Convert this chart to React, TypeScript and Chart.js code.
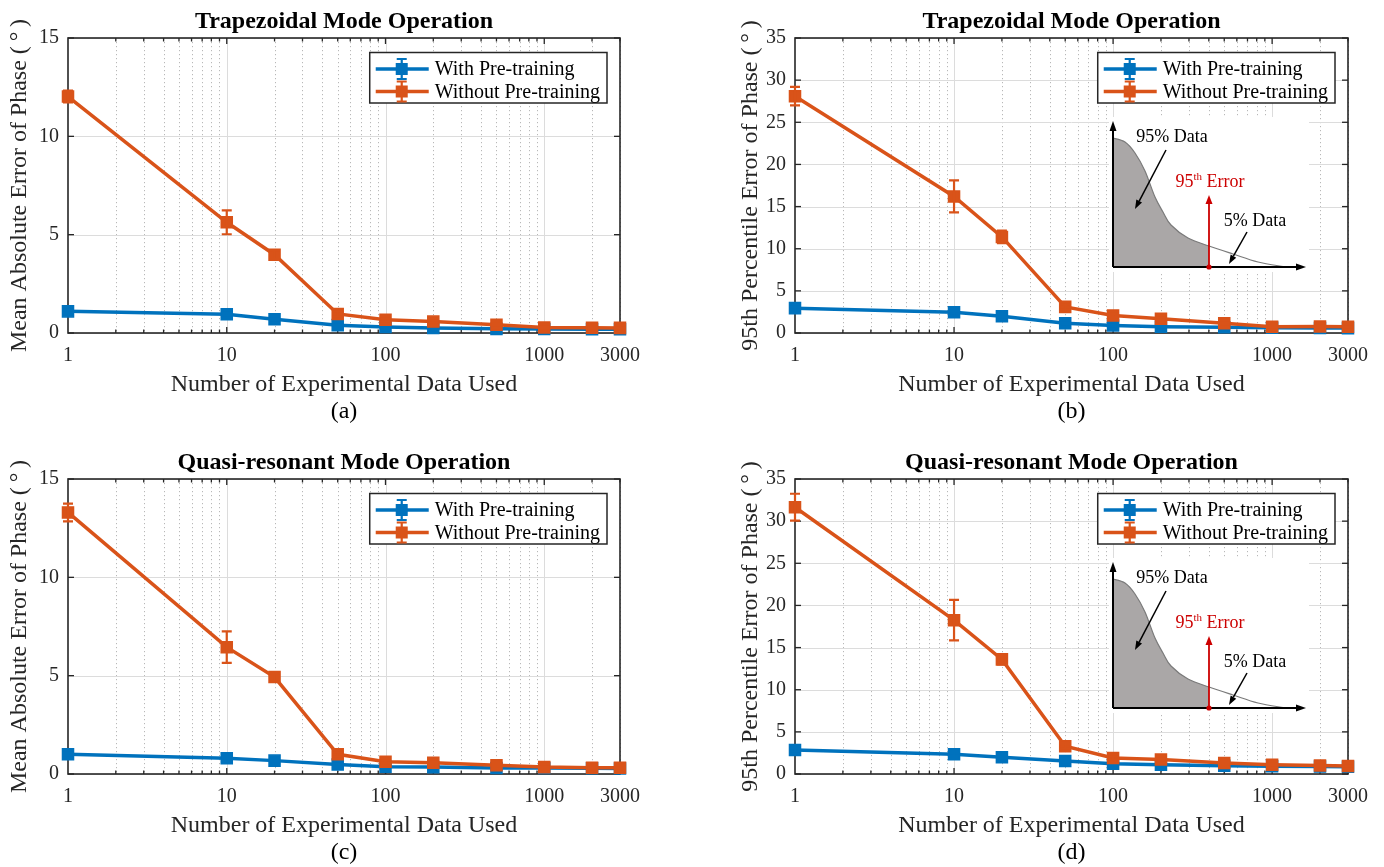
import React, { useEffect, useRef } from 'react';
import { Chart, registerables } from 'chart.js';

Chart.register(...registerables);

const FAMILY = "'Liberation Serif', 'Times New Roman', Times, serif";
const BLUE = '#0072BD';
const ORANGE = '#D95319';
const AXIS_COLOR = '#262626';
const MAJOR_GRID = '#dcdcdc';
const MINOR_GRID = '#b8b8b8';
const INSET_RED = '#cc0000';

// x values: number of experimental data used
const sampleCounts = [1, 10, 20, 50, 100, 200, 500, 1000, 2000, 3000];
const xTickLabels = [1, 10, 100, 1000, 3000];
const xMajorGrid = [10, 100, 1000];
const xMinorGrid = [2, 3, 4, 5, 6, 7, 8, 9, 20, 30, 40, 50, 60, 70, 80, 90, 200, 300, 400, 500, 600, 700, 800, 900, 2000, 3000];
const seriesLabels = ['With Pre-training', 'Without Pre-training'];

// (a) Trapezoidal - mean absolute error
const trapMaeWith = [1.1, 0.95, 0.7, 0.4, 0.31, 0.26, 0.21, 0.2, 0.19, 0.19];
const trapMaeWithErr = [0.08, 0.07, 0.05, 0.04, 0.03, 0.03, 0.02, 0.02, 0.02, 0.02];
const trapMaeWithout = [12.02, 5.63, 3.98, 0.97, 0.67, 0.58, 0.42, 0.28, 0.27, 0.26];
const trapMaeWithoutErr = [0.3, 0.61, 0.22, 0.12, 0.08, 0.06, 0.05, 0.04, 0.03, 0.03];

// (b) Trapezoidal - 95th percentile error
const trapP95With = [2.95, 2.45, 2.0, 1.15, 0.9, 0.75, 0.68, 0.62, 0.6, 0.58];
const trapP95WithErr = [0.15, 0.15, 0.12, 0.1, 0.08, 0.06, 0.05, 0.05, 0.04, 0.04];
const trapP95Without = [28.1, 16.2, 11.4, 3.1, 2.08, 1.7, 1.15, 0.74, 0.77, 0.73];
const trapP95WithoutErr = [1.1, 1.9, 0.75, 0.3, 0.2, 0.15, 0.12, 0.08, 0.08, 0.07];

// (c) Quasi-resonant - mean absolute error
const qrMaeWith = [1.0, 0.8, 0.68, 0.48, 0.37, 0.35, 0.31, 0.3, 0.29, 0.28];
const qrMaeWithErr = [0.07, 0.06, 0.05, 0.04, 0.03, 0.03, 0.02, 0.02, 0.02, 0.02];
const qrMaeWithout = [13.3, 6.45, 4.93, 1.0, 0.62, 0.57, 0.45, 0.35, 0.32, 0.32];
const qrMaeWithoutErr = [0.45, 0.8, 0.2, 0.1, 0.07, 0.06, 0.05, 0.04, 0.03, 0.03];

// (d) Quasi-resonant - 95th percentile error
const qrP95With = [2.85, 2.35, 2.0, 1.55, 1.22, 1.1, 0.98, 0.92, 0.88, 0.86];
const qrP95WithErr = [0.15, 0.14, 0.12, 0.1, 0.08, 0.07, 0.06, 0.05, 0.05, 0.05];
const qrP95Without = [31.65, 18.25, 13.6, 3.3, 1.9, 1.72, 1.3, 1.1, 1.0, 0.95];
const qrP95WithoutErr = [1.6, 2.4, 0.6, 0.25, 0.2, 0.15, 0.12, 0.1, 0.08, 0.08];

const maeYTitle = 'Mean Absolute Error of Phase (\u2009°\u2009)';
const p95YTitle = '95th Percentile Error of Phase (\u2009°\u2009)';

// schematic of the percentile inset (px offsets from the inset origin, y upwards)
const insetCurve = [
  [0, 129], [12, 125], [22, 114], [32, 96], [42, 70], [50, 55], [58, 42],
  [75, 29], [96, 21], [120, 13], [145, 5], [170, 0.5],
];

type PanelSpec = {
  title: string;
  yTitle: string;
  caption: string;
  yMax: number;
  withVals: number[];
  withErr: number[];
  withoutVals: number[];
  withoutErr: number[];
  inset: boolean;
  left: number;
  top: number;
  w: number;
  h: number;
  chartLeft: number;
  chartRight: number;
  yTitlePad: number;
};

const panels: PanelSpec[] = [
  {
    title: 'Trapezoidal Mode Operation', yTitle: maeYTitle, caption: '(a)', yMax: 15,
    withVals: trapMaeWith, withErr: trapMaeWithErr, withoutVals: trapMaeWithout, withoutErr: trapMaeWithoutErr,
    inset: false, left: 0, top: 0, w: 692, h: 441, chartLeft: 68, chartRight: 620, yTitlePad: 8,
  },
  {
    title: 'Trapezoidal Mode Operation', yTitle: p95YTitle, caption: '(b)', yMax: 35,
    withVals: trapP95With, withErr: trapP95WithErr, withoutVals: trapP95Without, withoutErr: trapP95WithoutErr,
    inset: true, left: 692, top: 0, w: 692, h: 441, chartLeft: 103, chartRight: 656, yTitlePad: 47,
  },
  {
    title: 'Quasi-resonant Mode Operation', yTitle: maeYTitle, caption: '(c)', yMax: 15,
    withVals: qrMaeWith, withErr: qrMaeWithErr, withoutVals: qrMaeWithout, withoutErr: qrMaeWithoutErr,
    inset: false, left: 0, top: 441, w: 692, h: 426, chartLeft: 68, chartRight: 620, yTitlePad: 8,
  },
  {
    title: 'Quasi-resonant Mode Operation', yTitle: p95YTitle, caption: '(d)', yMax: 35,
    withVals: qrP95With, withErr: qrP95WithErr, withoutVals: qrP95Without, withoutErr: qrP95WithoutErr,
    inset: true, left: 692, top: 441, w: 692, h: 426, chartLeft: 103, chartRight: 656, yTitlePad: 47,
  },
];

function arrow(ctx: CanvasRenderingContext2D, x1: number, y1: number, x2: number, y2: number, color: string, lw: number, head = 9, hw = 3.5) {
  const ang = Math.atan2(y2 - y1, x2 - x1);
  const bx = x2 - head * Math.cos(ang);
  const by = y2 - head * Math.sin(ang);
  ctx.strokeStyle = color;
  ctx.fillStyle = color;
  ctx.lineWidth = lw;
  ctx.beginPath();
  ctx.moveTo(x1, y1);
  ctx.lineTo(bx, by);
  ctx.stroke();
  ctx.beginPath();
  ctx.moveTo(x2, y2);
  ctx.lineTo(bx + hw * Math.sin(ang), by - hw * Math.cos(ang));
  ctx.lineTo(bx - hw * Math.sin(ang), by + hw * Math.cos(ang));
  ctx.closePath();
  ctx.fill();
}

function curvePath(ctx: CanvasRenderingContext2D, pts: number[][], move: boolean) {
  if (move) ctx.moveTo(pts[0][0], pts[0][1]);
  else ctx.lineTo(pts[0][0], pts[0][1]);
  for (let i = 0; i < pts.length - 1; i++) {
    const p0 = pts[Math.max(i - 1, 0)];
    const p1 = pts[i];
    const p2 = pts[i + 1];
    const p3 = pts[Math.min(i + 2, pts.length - 1)];
    ctx.bezierCurveTo(
      p1[0] + (p2[0] - p0[0]) / 6, p1[1] + (p2[1] - p0[1]) / 6,
      p2[0] - (p3[0] - p1[0]) / 6, p2[1] - (p3[1] - p1[1]) / 6,
      p2[0], p2[1],
    );
  }
}

function drawInset(ctx: CanvasRenderingContext2D, ca: any) {
  const ox = ca.left + 318;
  const oy = ca.top + 229;
  const pts = insetCurve.map(([dx, dy]) => [ox + dx, oy - dy]);
  ctx.save();
  ctx.fillStyle = '#ffffff';
  ctx.fillRect(ox - 4, oy - 150, 200, 155);

  // shaded 95% region
  ctx.save();
  ctx.beginPath();
  ctx.rect(ox, oy - 140, 96, 140);
  ctx.clip();
  ctx.beginPath();
  ctx.moveTo(ox, oy);
  curvePath(ctx, pts, false);
  ctx.lineTo(pts[pts.length - 1][0], oy);
  ctx.closePath();
  ctx.fillStyle = '#aaa7a7';
  ctx.fill();
  ctx.restore();

  ctx.beginPath();
  curvePath(ctx, pts, true);
  ctx.strokeStyle = '#7a7a7a';
  ctx.lineWidth = 1.2;
  ctx.stroke();

  // axes
  arrow(ctx, ox, oy, ox, oy - 146, '#000', 2, 10, 3.5);
  arrow(ctx, ox, oy, ox + 193, oy, '#000', 2, 10, 3.5);

  // 95th percentile marker
  arrow(ctx, ox + 96, oy, ox + 96, oy - 72, INSET_RED, 1.8, 9, 3.5);
  ctx.fillStyle = INSET_RED;
  ctx.beginPath();
  ctx.arc(ox + 96, oy, 2.6, 0, Math.PI * 2);
  ctx.fill();

  // annotation arrows
  arrow(ctx, ox + 53, oy - 117, ox + 22, oy - 58, '#000', 1.5, 9, 3.2);
  arrow(ctx, ox + 134, oy - 35, ox + 116, oy - 3, '#000', 1.5, 9, 3.2);

  // texts
  ctx.textBaseline = 'middle';
  ctx.textAlign = 'center';
  ctx.fillStyle = '#000';
  ctx.font = `18px ${FAMILY}`;
  ctx.fillText('95% Data', ox + 59, oy - 130);
  ctx.fillText('5% Data', ox + 142, oy - 46);

  ctx.textAlign = 'left';
  ctx.fillStyle = INSET_RED;
  ctx.font = `18px ${FAMILY}`;
  const w1 = ctx.measureText('95').width;
  const w3 = ctx.measureText(' Error').width;
  ctx.font = `11px ${FAMILY}`;
  const w2 = ctx.measureText('th').width;
  const tx = ox + 97 - (w1 + w2 + w3) / 2;
  const ty = oy - 85;
  ctx.font = `18px ${FAMILY}`;
  ctx.fillText('95', tx, ty);
  ctx.font = `11px ${FAMILY}`;
  ctx.fillText('th', tx + w1, ty - 5);
  ctx.font = `18px ${FAMILY}`;
  ctx.fillText(' Error', tx + w1 + w2, ty);
  ctx.restore();
}

function makeAxesPlugin(withInset: boolean) {
  return {
    id: 'matlabAxes',
    beforeDatasetsDraw(chart: any) {
      const { ctx, chartArea: ca } = chart;
      const x = chart.scales.x;
      const y = chart.scales.y;
      ctx.save();
      ctx.lineWidth = 1;
      // minor x grid (dotted)
      ctx.strokeStyle = MINOR_GRID;
      ctx.setLineDash([1.2, 2.8]);
      for (const v of xMinorGrid) {
        const px = Math.round(x.getPixelForValue(v)) + 0.5;
        ctx.beginPath();
        ctx.moveTo(px, ca.top);
        ctx.lineTo(px, ca.bottom);
        ctx.stroke();
      }
      ctx.setLineDash([]);
      // major grid
      ctx.strokeStyle = MAJOR_GRID;
      for (const v of xMajorGrid) {
        const px = Math.round(x.getPixelForValue(v)) + 0.5;
        ctx.beginPath();
        ctx.moveTo(px, ca.top);
        ctx.lineTo(px, ca.bottom);
        ctx.stroke();
      }
      for (const t of y.ticks) {
        const py = Math.round(y.getPixelForValue(t.value)) + 0.5;
        ctx.beginPath();
        ctx.moveTo(ca.left, py);
        ctx.lineTo(ca.right, py);
        ctx.stroke();
      }
      if (withInset) drawInset(ctx, ca);

      // box
      ctx.strokeStyle = AXIS_COLOR;
      ctx.lineWidth = 1.6;
      ctx.strokeRect(ca.left, ca.top, ca.right - ca.left, ca.bottom - ca.top);
      // inward ticks
      ctx.lineWidth = 1.3;
      const tick = (x1: number, y1: number, x2: number, y2: number) => {
        ctx.beginPath();
        ctx.moveTo(x1, y1);
        ctx.lineTo(x2, y2);
        ctx.stroke();
      };
      for (const v of xMajorGrid) {
        const px = x.getPixelForValue(v);
        tick(px, ca.bottom, px, ca.bottom - 6);
        tick(px, ca.top, px, ca.top + 6);
      }
      for (const v of xMinorGrid) {
        const px = x.getPixelForValue(v);
        tick(px, ca.bottom, px, ca.bottom - 3.5);
        tick(px, ca.top, px, ca.top + 3.5);
      }
      for (const t of y.ticks) {
        const py = y.getPixelForValue(t.value);
        tick(ca.left, py, ca.left + 6, py);
        tick(ca.right, py, ca.right - 6, py);
      }
      ctx.restore();
    },
  };
}

const errorBarPlugin = {
  id: 'errorBars',
  afterDatasetDraw(chart: any, args: any) {
    const ds = chart.data.datasets[args.index];
    const errs: number[] = ds.errorBars || [];
    const { ctx } = chart;
    const x = chart.scales.x;
    const y = chart.scales.y;
    ctx.save();
    ctx.strokeStyle = ds.borderColor;
    ctx.lineWidth = 2.2;
    ds.data.forEach((p: any, i: number) => {
      const e = errs[i] || 0;
      if (e <= 0) return;
      const px = x.getPixelForValue(p.x);
      const top = y.getPixelForValue(p.y + e);
      const bot = y.getPixelForValue(p.y - e);
      ctx.beginPath();
      ctx.moveTo(px, top);
      ctx.lineTo(px, bot);
      ctx.moveTo(px - 5, top);
      ctx.lineTo(px + 5, top);
      ctx.moveTo(px - 5, bot);
      ctx.lineTo(px + 5, bot);
      ctx.stroke();
    });
    ctx.restore();
  },
};

const boxLegendPlugin = {
  id: 'boxLegend',
  afterDraw(chart: any) {
    const { ctx, chartArea: ca } = chart;
    const sets = chart.data.datasets;
    ctx.save();
    ctx.font = `20px ${FAMILY}`;
    const textW = Math.max(...sets.map((d: any) => ctx.measureText(d.label).width));
    const w = 65 + textW + 7;
    const h = 50.5;
    const right = ca.right - 13;
    const left = right - w;
    const top = ca.top + 14.5;
    ctx.fillStyle = '#ffffff';
    ctx.fillRect(left, top, w, h);
    ctx.strokeStyle = AXIS_COLOR;
    ctx.lineWidth = 1.5;
    ctx.strokeRect(left, top, w, h);
    sets.forEach((d: any, i: number) => {
      const cy = top + 16.5 + i * 22.5;
      const cx = left + 32;
      ctx.strokeStyle = d.borderColor;
      ctx.fillStyle = d.borderColor;
      ctx.lineWidth = 3.5;
      ctx.beginPath();
      ctx.moveTo(left + 6, cy);
      ctx.lineTo(left + 59, cy);
      ctx.stroke();
      ctx.lineWidth = 2.2;
      ctx.beginPath();
      ctx.moveTo(cx, cy - 10);
      ctx.lineTo(cx, cy + 10);
      ctx.moveTo(cx - 5, cy - 10);
      ctx.lineTo(cx + 5, cy - 10);
      ctx.moveTo(cx - 5, cy + 10);
      ctx.lineTo(cx + 5, cy + 10);
      ctx.stroke();
      ctx.fillRect(cx - 6, cy - 6, 12, 12);
      ctx.fillStyle = '#000';
      ctx.textAlign = 'left';
      ctx.textBaseline = 'middle';
      ctx.fillText(d.label, left + 65, cy + 1);
    });
    ctx.restore();
  },
};

function makeConfig(p: PanelSpec): any {
  const series = (vals: number[]) => sampleCounts.map((c, i) => ({ x: c, y: vals[i] }));
  const common = {
    borderWidth: 3.5,
    pointStyle: 'rect',
    pointRadius: 7.8,
    pointBorderWidth: 1.5,
    tension: 0,
    clip: false,
  };
  return {
    type: 'line',
    data: {
      datasets: [
        {
          ...common,
          label: seriesLabels[0],
          data: series(p.withVals),
          errorBars: p.withErr,
          borderColor: BLUE,
          backgroundColor: BLUE,
          pointBackgroundColor: BLUE,
          pointBorderColor: BLUE,
          order: 1,
        },
        {
          ...common,
          label: seriesLabels[1],
          data: series(p.withoutVals),
          errorBars: p.withoutErr,
          borderColor: ORANGE,
          backgroundColor: ORANGE,
          pointBackgroundColor: ORANGE,
          pointBorderColor: ORANGE,
          order: 0,
        },
      ],
    },
    options: {
      animation: false,
      responsive: false,
      maintainAspectRatio: false,
      devicePixelRatio: 1,
      events: [],
      layout: { padding: { left: 0, top: 0, bottom: 0, right: p.w - p.chartRight } },
      plugins: {
        legend: { display: false },
        tooltip: { enabled: false },
        title: {
          display: true,
          text: p.title,
          fullSize: false,
          color: '#000',
          font: { family: FAMILY, size: 24, weight: 'bold', lineHeight: 1 },
          padding: { top: 10, bottom: 4 },
        },
        subtitle: {
          display: true,
          text: p.caption,
          position: 'bottom',
          fullSize: false,
          color: '#000',
          font: { family: FAMILY, size: 24, weight: 'normal', lineHeight: 1 },
          padding: { top: 2, bottom: p.h - 398 - 26 },
        },
      },
      scales: {
        x: {
          type: 'logarithmic',
          min: 1,
          max: 3000,
          afterBuildTicks: (s: any) => {
            s.ticks = xTickLabels.map((v) => ({ value: v }));
          },
          afterFit: (s: any) => {
            s.height = 65;
          },
          grid: { display: false, drawTicks: false },
          border: { display: false },
          ticks: {
            autoSkip: false,
            maxRotation: 0,
            minRotation: 0,
            padding: 11,
            color: AXIS_COLOR,
            font: { family: FAMILY, size: 20, lineHeight: 1.2 },
            callback: (v: any) => String(v),
          },
          title: {
            display: true,
            text: 'Number of Experimental Data Used',
            color: AXIS_COLOR,
            font: { family: FAMILY, size: 24, lineHeight: 1 },
            padding: { top: 0, bottom: 1 },
          },
        },
        y: {
          type: 'linear',
          min: 0,
          max: p.yMax,
          afterFit: (s: any) => {
            s.width = p.chartLeft;
          },
          grid: { display: false, drawTicks: false },
          border: { display: false },
          ticks: {
            stepSize: 5,
            padding: 9,
            color: AXIS_COLOR,
            font: { family: FAMILY, size: 20 },
          },
          title: {
            display: true,
            text: p.yTitle,
            color: AXIS_COLOR,
            font: { family: FAMILY, size: 24, lineHeight: 1 },
            padding: { top: p.yTitlePad, bottom: 0 },
          },
        },
      },
    },
    plugins: [makeAxesPlugin(p.inset), errorBarPlugin, boxLegendPlugin],
  };
}

function Panel({ spec }: { spec: PanelSpec }) {
  const ref = useRef<HTMLCanvasElement>(null);
  useEffect(() => {
    if (!ref.current) return;
    const chart = new Chart(ref.current, makeConfig(spec));
    return () => chart.destroy();
  }, [spec]);
  return (
    <canvas
      ref={ref}
      width={spec.w}
      height={spec.h}
      style={{ position: 'absolute', left: spec.left, top: spec.top, width: spec.w, height: spec.h, display: 'block' }}
    />
  );
}

export default function App() {
  return (
    <div style={{ position: 'absolute', left: 0, top: 0, width: 1384, height: 867, background: '#ffffff', overflow: 'hidden' }}>
      {panels.map((p) => (
        <Panel key={p.caption} spec={p} />
      ))}
    </div>
  );
}
